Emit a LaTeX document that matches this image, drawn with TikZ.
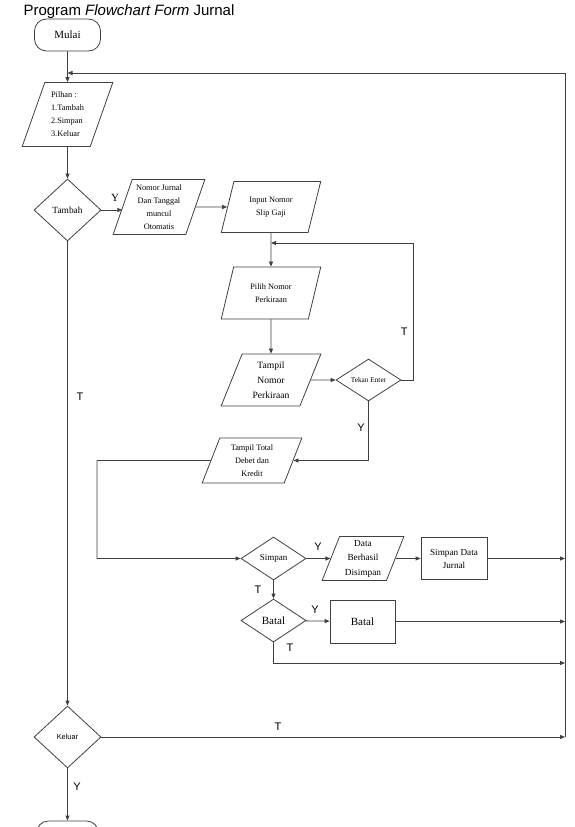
\documentclass[tikz,border=0pt]{standalone}
\usepackage{fontspec}
\setmainfont{Liberation Serif}
\setsansfont{Liberation Sans}
\usetikzlibrary{arrows.meta,positioning,shapes.geometric}

\begin{document}
\begin{tikzpicture}[
    x=1pt, y=-1pt,
    >={Triangle[length=5pt,width=4pt]},
    garis/.style={draw=black!75, line width=0.8pt},
    terminal/.style={garis, rounded corners=12pt, minimum width=66pt, minimum height=32pt, inner sep=0pt, font=\fontsize{11}{13}\selectfont},
    io/.style={trapezium, trapezium left angle=70, trapezium right angle=110, trapezium stretches=true, garis, inner sep=0pt, align=center, font=\fontsize{8.3}{13}\selectfont},
    keputusan/.style={diamond, garis, inner sep=0pt, font=\fontsize{9}{11}\selectfont},
    proses/.style={rectangle, garis, inner sep=0pt, align=center, font=\fontsize{9.2}{13}\selectfont},
    ket/.style={font=\sffamily\fontsize{11}{13}\selectfont}
]
    \clip (0,0) rectangle (574,827);

    % Judul
    \node[anchor=base west, font=\sffamily\fontsize{15}{17}\selectfont] (judul) at (20,16) {Program \textit{Flowchart Form} Jurnal};

    % Kolom kiri
    \node[terminal] (mulai) at (67.5,35) {Mulai};
    \node[io, minimum width=91pt, minimum height=64pt, align=left] (pilihan) at (67.5,114.5) {Pilhan :\\1.Tambah\\2.Simpan\\3.Keluar};
    \node[keputusan, minimum width=67pt, minimum height=62pt, font=\fontsize{9.4}{11}\selectfont] (tambah) at (67.5,210) {Tambah};
    \node[keputusan, minimum width=67pt, minimum height=62pt, font=\sffamily\fontsize{7.4}{9}\selectfont] (keluar) at (67.5,737) {Keluar};
    \node[terminal, minimum width=62pt] (selesai) at (67.5,837) {};

    % Input jurnal
    \node[io, minimum width=92pt, minimum height=55pt] (nomor) at (159,207) {Nomor Jurnal\\Dan Tanggal\\muncul\\Otomatis};
    \node[io, minimum width=100pt, minimum height=51pt] (input) at (271,207) {Input Nomor\\Slip Gaji};
    \node[io, minimum width=100pt, minimum height=52pt] (pilih) at (271,293) {Pilih Nomor\\Perkiraan};
    \node[io, minimum width=100pt, minimum height=52pt, font=\fontsize{9.6}{15}\selectfont] (tampilno) at (271,380) {Tampil\\Nomor\\Perkiraan};
    \node[keputusan, minimum width=65pt, minimum height=42pt, font=\fontsize{7.3}{9}\selectfont] (tekan) at (368.5,380) {Tekan Enter};
    \node[io, minimum width=100pt, minimum height=45pt] (tampiltot) at (252,460.5) {Tampil Total\\Debet dan\\Kredit};

    % Simpan dan batal
    \node[keputusan, minimum width=65pt, minimum height=43pt] (simpan) at (273.5,558.5) {Simpan};
    \node[io, minimum width=82pt, minimum height=44pt, font=\fontsize{9.3}{14.5}\selectfont] (berhasil) at (363,558.5) {Data\\Berhasil\\Disimpan};
    \node[proses, minimum width=66pt, minimum height=42pt] (sdj) at (454,558.5) {Simpan Data\\Jurnal};
    \node[keputusan, minimum width=65pt, minimum height=43pt, font=\fontsize{11}{13}\selectfont] (batal) at (273.5,620.5) {Batal};
    \node[proses, minimum width=65pt, minimum height=43pt, font=\fontsize{11}{13}\selectfont] (batalbox) at (362.5,621.5) {Batal};

    % Titik bantu
    \coordinate (kanan) at (565,73);
    \coordinate (loopin) at (271,243);
    \coordinate (tsudut) at (413,243);
    \coordinate (belok) at (97,460.5);
    \coordinate (bawah) at (565,663);

    % Garis alir
    \draw[garis, ->] (mulai) -- (pilihan);
    \draw[garis, ->] (pilihan) -- (tambah);
    \draw[garis, ->] (tambah.east) -- (tambah.east -| nomor.west);
    \draw[garis, ->] (nomor) -- (input);
    \draw[garis, ->] (input) -- (pilih);
    \draw[garis, ->] (pilih) -- (tampilno);
    \draw[garis, ->] (tampilno) -- (tekan);
    \draw[garis, ->] (tekan.east) -| (tsudut) -- (loopin);
    \draw[garis, ->] (tekan.south) |- (tampiltot.east);
    \draw[garis, ->] (tampiltot.west) -- (belok) |- (simpan.west);
    \draw[garis, ->] (simpan) -- (berhasil);
    \draw[garis, ->] (berhasil) -- (sdj);
    \draw[garis, ->] (sdj.east) -- (sdj.east -| kanan);
    \draw[garis, ->] (simpan) -- (batal);
    \draw[garis, ->] (batal) -- (batalbox);
    \draw[garis, ->] (batalbox.east) -- (batalbox.east -| kanan);
    \draw[garis, ->] (batal.south) |- (bawah);
    \draw[garis, ->] (tambah) -- (keluar);
    \draw[garis, ->] (keluar.east) -- (keluar.east -| kanan);
    \draw[garis, ->] (keluar) -- (selesai);
    \draw[garis] (kanan) -- (kanan |- keluar.east);
    \draw[garis, ->] (kanan) -- (kanan -| mulai);

    % Keterangan Y / T
    \node[font=\fontsize{11}{13}\selectfont] (ytambah) at (115,198) {Y};
    \node[ket] (ttambah) at (80,397) {T};
    \node[ket, anchor=east] (ttekan) at (411,332) {T};
    \node[ket] (ytekan) at (361,428) {Y};
    \node[ket] (ysimpan) at (318,547) {Y};
    \node[ket] (tsimpan) at (258,590) {T};
    \node[ket] (ybatal) at (315,610) {Y};
    \node[ket] (tbatal) at (290,648) {T};
    \node[ket] (tkeluar) at (278,727) {T};
    \node[ket] (ykeluar) at (77,787) {Y};
\end{tikzpicture}
\end{document}
